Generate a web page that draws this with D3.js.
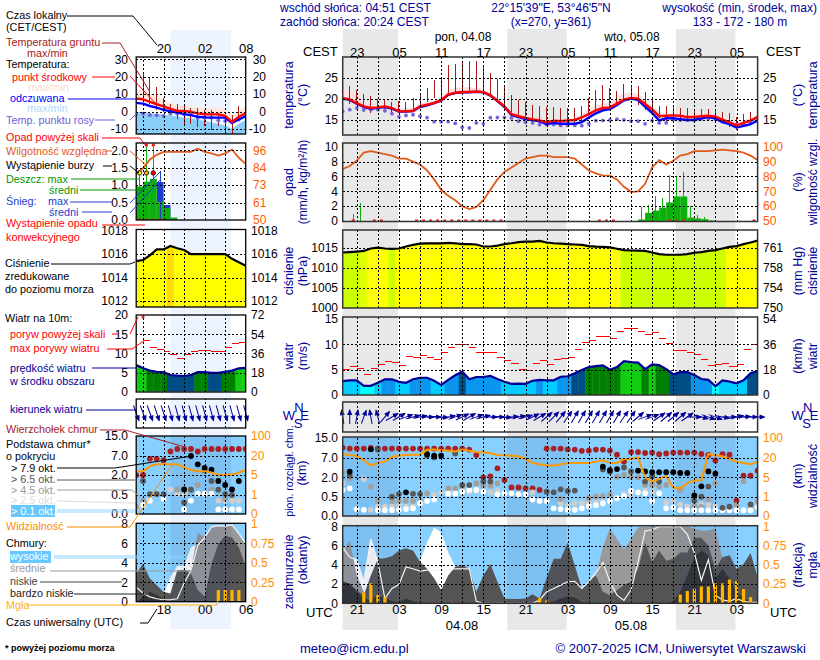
<!DOCTYPE html>
<html>
<head>
<meta charset="utf-8">
<script src="https://cdn.jsdelivr.net/npm/d3@7/dist/d3.min.js"></script>
<style>
  body { margin: 0; background: #fff; }
  svg { display: block; font-family: "Liberation Sans", Arial, sans-serif; font-size: 12px; }
  .grid line { stroke: #000; stroke-dasharray: 2,2; shape-rendering: crispEdges; }
  .grid .domain { display: none; }
  .lab .domain { display: none; }
  .lab text { font-size: 12px; }
</style>
</head>
<body>
<svg id="chart" width="820" height="660"></svg>
<script>
// main column: hourly from 19 UTC 03.08 (60 points)
const temp_mid = [20.2,19.9,19.0,18.25,17.85,18.0,18.25,17.85,17.05,17.05,
  17.2,18.25,18.65,19.05,19.7,21.05,21.5,21.65,21.65,21.8,
  21.65,20.9,19.6,18.25,16.4,15.9,15.5,15.15,14.9,14.45,
  14.85,14.7,14.9,15,15.6,16.4,17.3,17.85,18,18.9,
  19.85,20.25,20.1,18.8,17.5,15.9,16,16.1,16,15.7,
  15.7,15.9,16,15.8,15.1,14.45,13.7,14.3,14.85,15.7];
const temp_max = [22.6,22,20.6,19.2,18.7,18.7,18.7,18.25,17.85,17.85,
  18,18.9,19.2,19.7,20.6,22,22.6,22.85,22.85,22.6,
  22.4,21.4,20.2,18.65,17.05,16.65,16.25,15.9,15.5,15.1,
  15.1,15,15.3,15.3,16.4,17.7,18.65,18.9,19.2,20.25,
  21.4,21.6,21.2,19.85,18.25,17,16.5,16.5,16.4,16.25,
  16.25,16.4,16.4,16.4,15.7,15.1,14.1,15,15.5,16.4];
const feels_mid = [20.1,19.8,18.9,18.1,17.7,17.9,18.1,17.7,17,17,
  17.1,18.1,18.5,19,19.6,21,21.4,21.6,21.6,21.7,
  21.6,20.8,19.5,18.1,16.2,15.7,15.2,15,14.7,14,
  14.3,14.1,14.1,14.1,14.5,15.6,16.6,17.3,17.6,18.6,
  19.7,20.1,19.8,18.2,16.7,14.9,15.4,15.4,15.2,15,
  15,15.4,15.7,15.4,14.5,14,13.2,13.6,14,14.9];
const feels_min = [19.9,19.5,18.6,17.8,17.4,17.6,17.8,17.4,16.8,16.8,
  16.9,17.9,18.3,18.8,19.4,20.8,21.2,21.4,21.4,21.5,
  21.4,20.6,19.3,17.9,16,15.4,14.9,14.6,14.3,13.6,
  13.9,13.7,13.7,13.7,14.1,15.2,16.2,16.9,17.2,18.2,
  19.3,19.7,19.3,17.6,16.1,14.3,14.9,14.9,14.7,14.5,
  14.5,14.9,15.2,14.9,14,13.5,12.8,13.2,13.6,14.5];
const dew_point = [17.05,17.45,17.85,17.45,17.45,17.45,17.2,16.5,15.8,16.1,
  16.25,15.9,15.55,14.6,14.6,14.6,14.2,13.25,13.1,14.3,
  14.1,15.55,15.6,15.6,15.5,14.7,14.45,14.3,13.9,13.9,
  13.9,13.7,13.7,13.7,13.65,14.1,14.85,14.9,15,15.2,
  15,14.75,14.7,14.1,14.85,14.3,14.3,15.1,14.95,14.95,
  14.95,15.3,15.3,15.1,14.7,14.3,13.9,13.9,14.3,14.7];
const ground_max = [null,23.2,22.05,21.2,20.8,20,20,19.4,19.45,19.4,
  20.2,21.05,22.6,24.6,25,28.2,28.4,29.1,29.1,29.1,
  27.95,26.2,24.8,23.2,21,19.8,19.3,18.65,18.4,18.1,
  18,17.85,17.85,17.85,18.4,20.25,22.2,23.4,22.6,22,
  23.6,23.25,23.2,21.65,20.25,18.25,18.25,18,17.85,17.85,
  17.6,17.6,17.7,17.05,16.9,16.7,15.65,16.4,17,17.85];
const ground_min = [null,18.8,18.65,16.9,16.7,17.5,17.5,16.9,16.65,17.05,
  17.5,17.85,19.4,20.2,19.85,21,21.4,21.85,22,22.2,
  21.65,20.6,19.8,17.85,17,16.3,15.5,14.7,14.3,13.9,
  14,14,13.7,13.7,14.3,16.4,17,17.5,17.5,18.65,
  19.85,20.25,18.65,17.5,16.65,15.5,14.3,14.7,14.7,14.7,
  14.7,15,15,14.7,14.3,13.25,12.7,13.5,14.3,15];

const humidity = [85,87,90.6,96,97,96,95,94,92,92,
  90,88,84,78,71,67,64,60,58,59.5,
  64,71,78,83,86,89,92,93,94,94,
  93,93,93,92,88,84,82,80.5,80.5,78,
  73,69.5,70,75,86,91,88,90.5,94,95,
  97,97,97,97.5,98,97.5,97,96,94,91];
// [interval start hour, mm/h]
const rain_mean = [[42,0.2],[43,1.1],[44,1.4],[45,1.8],[46,2.5],[47,3.3],[48,3.3],[49,0.45],[50,0.35],[51,0.25],[52,0.05]];
const rain_max = [[1,0.9],[2,2.4],[42,1.9],[43,2.2],[44,3.3],[45,3.1],[46,6.2],[47,5.9],[48,6.6],[49,2],[50,0.85],[51,0.6],[52,0.2]];
const convective = [1,4,5,10,11,12,13,14,15,16,17,18,19,20,21,22,36,37,38,46,47,48,58];

const pressure = [1013.8,1013.9,1014,1014.2,1014.8,1015,1014.8,1014.7,1014.8,1015.3,
  1015.7,1016,1016.1,1016.1,1016.1,1016.2,1016.1,1015.9,1015.9,1015.8,
  1015.3,1015.3,1015.5,1015.9,1016.1,1016.4,1016.5,1016.5,1016.7,1016.3,
  1016.1,1016,1015.9,1015.8,1015.7,1015.4,1015.25,1015.2,1015.1,1014.75,
  1014.4,1014.3,1014.25,1014.2,1013.8,1013.4,1013.25,1013.25,1013.25,1013.4,
  1013.75,1013.9,1014.2,1014.4,1014.8,1015.2,1015.4,1015.9,1016.3,1016.75];
const press_class = [1,1,1,0.5,0,0,0,1,0,0,0,0,0,0,0,0,0,0,0,0,0,0,0,0,0,0,0,0,0,0,
  0,0,0,0,0,0,0,0,0,0,1,1,1,1,1,1,1,1,1,1,1,1,1,1,1,0,0,0,0,0];

const wind_speed = [2.75,2.9,2.9,1.8,1.8,2.4,3.1,3.1,2.6,2.4,
  3.1,3.4,3.4,2.8,2,3,3.9,4.6,3.1,3.55,
  3.55,3.75,3.15,2.6,2.2,2.25,2.2,2.8,3,2.9,
  2.9,3.6,3.7,4.3,4.95,5.5,5.7,5.85,5,5.5,
  6.7,6.5,6.4,5.1,6.05,5.9,5.1,4.1,4.5,4.5,
  3.95,3.15,3,1.7,2.9,2.65,2.3,2.9,4.3,4.75];
const wind_gust = [5.05,5.6,5.25,4.1,5.25,6.05,6.65,6.45,5.85,7.6,
  7.4,7.8,7.4,7,8.35,9.4,10,10,9.4,8.4,
  8.4,8.4,7.4,6.8,6.3,5.1,4.8,6.3,6.9,6.1,
  7,7.2,7.5,9,10.4,10.8,11.6,11.6,11.1,12.55,
  13.15,13.15,12.55,12,12.35,11.1,10.1,8.8,8.8,8.4,
  7.95,7,5.85,6.05,6.3,5.65,6.05,9,10,10];
const wind_dir = [350,0,10,20,350,345,40,60,60,70,
  75,80,90,90,95,80,70,65,60,70,
  75,90,90,95,85,80,75,65,60,50,
  45,40,35,30,30,30,30,30,30,30,
  35,35,50,70,70,55,50,50,50,55,
  90,105,110,110,100,90,80,85,90,90];

// cloud base [hour, km]
const base_top = [[0,11.1],[1,10.7],[2,10.7],[3,10.7],[4,11],[5,10.7],[6,10.7],[7,10.7],[8,10.7],[9,10.7],[10,10.7],[11,10.7],[12,10.7],[13,10.7],[14,10.7],[15,10.7],[16,10.7],[17,10.7],[18,10.3],[19,8.1],
  [20,2],[21,2.25],[22,4.3],[23,1.8],[24,1.22],[25,1.22],[26,1.15],[27,1.15],[28,1.02],[29,10.7],[30,10.7],[31,10.7],[32,10.4],[33,10.3],[34,9.8],[35,9.9],[36,10.3],[37,10.3],[38,9.9],[39,8.2],
  [40,6],[41,9.3],[42,9.3],[43,8.9],[44,9.1],[45,8.4],[46,8.7],[47,9.1],[48,9.1],[49,9.1],[50,9.1],[51,8.5],[52,8.1],[53,6.3],[54,8.4],[55,8.2],[56,0.4],[57,2.4],[58,2.4],[59,3.7]];
const base_79 = [[1,3.44],[4,10.4],[9,0.84],[12,8.4],[13,7.8],[14,7.8],[37,4.7],[38,3.8],[39,4.1],[42,3.7],[43,3.5],[44,3.3],[45,3.3],[46,3.3],[47,3.3],[48,3.1],[49,3.1],[50,0.6],[51,1.3],[52,3.5],[53,2.9]];
const base_65 = [[1,2.4],[5,10.3],[7,0.5],[8,0.7],[10,0.72],[11,0.7],[12,7.9],[13,7.1],[16,8.7],[17,1.4],[18,1.4],[20,1.67],[21,1.67],[29,0.89],[30,0.84],[31,1.07],[32,0.94],[33,0.97],[37,4],[38,3.4],[40,4.5],[41,3.5],[43,1.67],[44,2.2],[45,1.67],[50,0.4],[51,0.5],[52,1.28],[54,0.21],[55,0.24],[58,0.3]];
const base_45 = [[0,3.3],[1,1.92],[4,1.28],[5,0.39],[7,0.39],[8,0.39],[9,0.39],[10,0.39],[11,0.39],[12,0.76],[15,1.15],[16,1.15],[17,1.28],[19,1.54],[20,1.35],[21,1.35],[22,1.54],[31,0.44],[35,0.46],[36,0.5],[37,0.55],[38,0.68],[39,2.17],[40,2.6],[41,2.17],[42,2],[43,1.41],[44,1.41],[45,1.28],[46,1.41],[48,1.02],[50,0.26],[51,0.24],[52,0.43],[53,1.54],[56,0.28],[57,1.69],[58,0.24],[59,0.39]];
const base_25 = [[0,1.54],[3,1.85],[4,0.16],[5,0.24],[6,0.24],[7,0.24],[8,0.28],[9,0.24],[10,0.24],[11,0.33],[13,0.63],[14,0.84],[15,0.84],[16,0.84],[17,0.89],[18,0.89],[19,0.95],[20,0.95],[21,0.84],[22,0.94],[27,0.84],[31,0.33],[32,0.27],[33,0.33],[34,0.33],[35,0.33],[36,0.37],[37,0.5],[38,0.68],[40,0.73],[41,0.63],[43,1],[44,0.9],[46,0.35],[47,0.4],[48,0.3],[49,0.25],[50,0.3],[51,0.3],[52,0.3],[53,0.25]];
const base_01 = [[0,1.02],[1,1.15],[2,0.18],[3,0.16],[5,0.15],[6,0.15],[7,0.15],[8,0.16],[9,0.18],[10,0.2],[11,0.33],[12,0.39],[13,0.43],[15,0.73],[16,0.73],[17,0.89],[18,1.02],[19,1.02],[20,0.89],[22,0.68],[23,0.76],[24,0.76],[25,0.68],[26,0.68],[27,0.43],[28,0.39],[29,0.39],[30,0.2],[31,0.18],[32,0.16],[33,0.16],[34,0.2],[35,0.26],[36,0.28],[37,0.33],[38,0.39],[39,0.46],[40,0.55],[41,0.94],[42,0.84],[43,0.76],[44,0.39],[45,0.76],[46,0.2],[47,0.22],[48,0.15],[49,0.15],[50,0.15],[51,0.15],[52,0.15],[53,0.15],[54,0.15],[55,0.15],[56,0.15],[57,0.15],[58,0.15],[59,0.22]];
const visibility = [35,31,27,18,14,16,17,24,28,31,32,32,52,53,50,49,45,53,48,43,42,38,31,30,28,26,19,16,15,14,
  14,15,16,16,16,16,17,18,16,16,19,19,21,5,4,4.7,5.8,2.9,2.7,3.8,4.4,4.4,35,30,26,19,17,16,15,17];

const cloud_high = [5.85,4.7,4.55,2.25,6.7,4.3,0,0,0,0,0,4.45,6.35,7.9,7.4,5.3,3.8,3.6,3.6,1.2,
  0,0,0,0,0,0,0,0,0,0,0,0,0,0,0,0,0,0,0,0,0,0,0,0,0,0,0,0,0,0,0,0,0,0,0,0,0,0,0,0];
const cloud_mid = [5.3,6.55,2.9,1.2,0,0,0,0,0,0,0,0,0,0,0,0,0,0,0,0,
  0,0,0,0,0,0,0,0,0,0,0,0,0,0,0,0.2,2.9,5.85,7.8,6.7,
  5.6,6.7,7.9,8,8,8,8,8,8,8,7.8,7.6,7.6,7.8,4.65,1.2,0,0,0,0];
const cloud_low = [2.25,2.05,1.4,0.85,2.9,4.65,4.7,4.9,5.5,5.75,
  5.5,4.3,3.6,2.6,1.4,2.9,3.8,4,3.6,1.2,
  2.9,4.1,2.25,0.5,0.45,0.45,0.5,0.95,0.5,2.6,
  4.65,4.65,6.35,3.95,1.55,2.4,2.9,1.2,0.85,1.4,
  1.9,2.25,3.6,6.35,4.3,5.5,4.45,4.65,5.3,5.3,
  6.85,6.85,6,3.6,4.8,5,3.6,4.1,5.25,2.75];
const cloud_vlow = [2.25,2.05,1.2,0.5,0.35,0.85,0.5,0.25,0.1,0.5,0.2,0,0,0,0,0,0,0,0,0,
  0,0,0,0,0,0,0,0,0,0,0.2,0.5,0.7,0.6,0.1,0,0,0,0,0,
  0,0,0,0,0,0,0,0.2,1.2,2.9,4.8,5.5,5,2.6,3.6,2.6,1.2,0.5,0.2,0];
const cloud_line = [5.85,4.8,4.55,2.25,6.7,4.3,0.5,1.55,1.95,3.8,
  3.6,3.35,3.45,3.45,3.45,3.45,3.6,3.6,3.6,0.2,
  0,0,0,0,0,0,0,0,0.35,1.2,
  1.55,1.9,2.25,2.3,1.55,2.25,3.2,4.25,2.25,0.85,
  0.3,1.4,4.3,7.55,7.65,8,8,8,8,7.2,
  5.3,2.4,4.55,0.85,0.35,0.2,0.5,0.2,0.1,0.1];
const fog = [[3,0.14],[4,0.26],[5,0.11],[6,0.08],[28,0.065],[29,0.035],[48,0.115],[49,0.16],[50,0.19],[51,0.22],[52,0.22],[53,0.26],[54,0.26],[55,0.31],[56,0.29],[57,0.185],[58,0.08]];

// night in hours from start of the main column
const night_main = [[0,7.85],[23.4,31.85],[47.4,55.85]];
const grid_hours_main = [2,5,8,11,14,17,20,23,26,29,32,35,38,41,44,47,50,53,56];
const cest_hours = [2,8,14,20,26,32,38,44,50,56];
const cest_labels = ["23","05","11","17","23","05","11","17","23","05"];
const utc_labels = ["21","03","09","15","21","03","09","15","21","03"];

// left column: hourly 14 UTC - 06 UTC (17 points)
const l_temp_mid = [7.5,7,5.5,4.2,3,1.5,0.5,0.3,-0.2,-1,-1.5,-1.6,-1.6,-2.5,-6,-3,-0.8];
const l_temp_max = [13,12,10.5,9,7,5,3.5,3.3,3,2.5,2,2,2,1,-2,0,3];
const l_feels_mid = [5,4.6,3.2,2.3,1,0.2,-0.5,-1.5,-2,-3,-3.3,-3.5,-3.5,-3.5,-6.5,-4.5,-2.7];
const l_feels_top = [-0.2,-0.2,-0.8,-1.2,-1.7,-2.3,-3,-3.5,-4,-4.7,-5.4,-6.2,-7,-8,-9.8,-7,-4.6];
const l_dew = [-1.2,-1.2,-2.1,-2.1,-2.5,-1.2,-1.2,-1.5,-1.2,-3.7,-3.5,-3.5,-5,-5.4,-6,-4.6,-2.1];
const l_ground_max = [null,22,19,14,7.7,4.6,4.6,3,2.1,2.1,0.8,0.8,-0.8,-2.1,-2.1,3,null];
const l_ground_min = [null,8.5,4.6,1,-0.2,-1.2,-4,-7,-7,-8.8,-8.5,-10.4,-8.5,-12.7,-12.7,-5,null];
const l_humidity = [81,84,90,93,95,95,95,95,95,97,95,94,92.5,94,96.5,91,87];
const l_rain_mean = [[0,0.96],[1,1.1],[2,1.18],[3,0.53],[4,0.34],[5,0.07]];
const l_snow_mean = [[3,1.09],[4,0.43]];
const l_rain_max = [[0,1.35],[1,2.1],[2,2.1]];
const l_snow_max = [[3,1.4]];
const l_storm = [[0,"#ffff00"],[1,"#ffaa00"],[2,"#ff0000"]];
const l_over_scale = [1,2];
const l_convective = [0,1,2,3];
const l_pressure = [1015.4,1015.5,1015.9,1016.4,1016.4,1016.7,1016.5,1016.35,1016,1016,1016,1016,1016,1016,1015.6,1015.3,1015];
const l_press_class = [0,0,0,0,0,2,0,0,0,0,0,0,0,0,0,0,0];
const l_wind_speed = [6.95,6.1,5.5,5.2,5.1,4.35,4.2,4.1,4.35,5.1,5.1,4.9,4.9,5.2,5.5,6.1,6.2];
const l_wind_gust = [null,13.3,11.55,10.9,10.4,9.6,8.7,9.7,10.5,10.7,10.7,10.4,10.4,11.55,12.6,12.9,12.9];
const l_wind_dir = [160,160,160,162,162,165,165,165,165,165,165,165,165,165,165,165,165];
const l_base_top = [[0,2],[1,2],[2,6.3],[3,6.3],[4,5.9],[5,8.8],[6,9.8],[7,9.8],[8,9.8],[9,8.8],[10,9.8],[11,9.8],[12,9.8],[13,9.8],[14,9.8],[15,9.8],[16,9.8]];
const l_base_79 = [[7,0.92],[8,7],[9,4.8],[10,3.9],[11,3.4],[12,1.55],[13,1.25],[14,0.92],[15,1.55]];
const l_base_65 = [[1,1.55],[2,0.57],[3,0.57],[4,0.57],[7,0.3],[8,0.9],[10,3.2],[11,1.55],[12,0.9],[13,0.57],[14,0.5]];
const l_base_45 = [[0,0.2],[1,0.35],[6,0.9],[7,0.9],[8,0.9],[9,1.25],[10,0.6],[11,0.9],[13,0.4]];
const l_base_25 = [[0,0.2],[1,0.3],[5,0.9],[6,0.6],[7,0.55],[12,0.35],[13,0.35],[14,0.35],[15,0.35]];
const l_base_01 = [[1,0.24],[2,0.35],[4,0.4],[7,0.12],[8,0.35],[9,0.6],[10,0.6],[11,0.6],[12,0.12],[13,0.12],[14,0.12],[15,0.12]];
const l_visibility = [8,8,12,13.5,13.5,13.5,13.5,11,9,8,8,7,5,5.2,5.2,7,9];
const l_cloud_high = [0,0,0,0,0.8,2.55,3.7,3.7,5.6,6,6.5,7.3,7.8,7.8,8,7,6];
const l_cloud_mid = [0,0,0,0,0,0,2.5,3.3,3.2,7.1,6.6,7.65,7.8,7.8,8,7,5.95];
const l_cloud_low = [2.9,3.9,2.4,1.7,1,0.85,3.2,3.3,2.9,1.2,0.5,3.9,5.95,6.8,6.6,5.6,3.6];
const l_cloud_vlow = [0,0.5,1,0.7,0.3,0,0,0,0,0,0,0,0,0,0,0,0];
const l_cloud_line = [1.5,0.9,0.5,0.3,0.2,0.2,0.3,1.9,3.2,5.8,6.6,7.7,7.8,7.8,7.9,7,6];
const l_fog = [[12,0.15],[13,0.15],[14,0.15],[15,0.15]];

const temp_ticks = [25,20,15];
const rain_ticks = [10,8,6,4,2,0];
const hum_ticks = [100,90,80,70,60,50];
const press_ticks = [1015,1010,1005,1000];
const mmhg_labels = ["761","758","754","750"];
const wind_ticks = [15,10,5,0];
const kmh_labels = ["54","36","18","0"];
const base_ticks = [15,7,2,0.5,0];
const base_labels = ["15.0","7.0","2.0","0.5","0.0"];
const vis_labels = ["100","20","5","1","0"];
const cloud_ticks = [8,6,4,2,0];
const fog_labels = ["1","0.75","0.5","0.25","0"];

const svg = d3.select("#chart");
const NAVY = "#000099", ORANGE = "#ff8c00", HUM = "#e05a1c", FOGC = "#ffb400";

const pairs = (a) => a.map((v, i) => [i, v]);

function text(x, y, s, color, anchor, size, rot) {
  const t = svg.append("text")
    .attr("x", rot ? 0 : x).attr("y", rot ? 0 : y)
    .attr("dy", "0.35em")
    .attr("fill", color || "#000")
    .attr("text-anchor", anchor || "start")
    .style("font-size", (size || 12) + "px")
    .text(s);
  if (rot) t.attr("transform", `translate(${x},${y}) rotate(${rot})`);
  return t;
}

function link(points, color, dbl) {
  const line = d3.line();
  svg.append("path").attr("d", line(points)).attr("fill", "none")
    .attr("stroke", color).attr("stroke-width", 1);
  if (dbl) svg.append("path").attr("d", line(points.map((p) => [p[0], p[1] + 2])))
    .attr("fill", "none").attr("stroke", color).attr("stroke-width", 1);
}

// one panel: clipped content group, then grid + frame on top
function panel(col, name, top, bottom, fillBack) {
  const id = "clip-" + col.id + "-" + name;
  svg.append("clipPath").attr("id", id).append("rect")
    .attr("x", col.x.range()[0]).attr("y", top)
    .attr("width", col.x.range()[1] - col.x.range()[0]).attr("height", bottom - top);
  const g = svg.append("g").attr("clip-path", `url(#${id})`);
  if (fillBack) g.append("rect").attr("x", col.x.range()[0]).attr("y", top)
    .attr("width", col.x.range()[1] - col.x.range()[0]).attr("height", bottom - top).attr("fill", fillBack);
  return g;
}

function finish(col, top, bottom, yGrid, ticks) {
  const [x0, x1] = col.x.range();
  svg.append("g").attr("class", "grid")
    .attr("transform", `translate(0,${bottom})`)
    .call(d3.axisBottom(col.x).tickValues(col.grid).tickSize(-(bottom - top)).tickFormat(""));
  svg.append("g").attr("class", "grid")
    .attr("transform", `translate(${x0},0)`)
    .call(d3.axisLeft(yGrid).tickValues(ticks).tickSize(-(x1 - x0)).tickFormat(""));
  svg.append("rect").attr("x", x0).attr("y", top).attr("width", x1 - x0).attr("height", bottom - top)
    .attr("fill", "none").attr("stroke", col.frame).attr("stroke-width", col.frameW);
}

function yLabels(scale, ticks, labels, side, x, color, anchor) {
  const ax = (side === "left" ? d3.axisLeft(scale) : d3.axisRight(scale))
    .tickValues(ticks).tickSize(0).tickPadding(0)
    .tickFormat((d, i) => labels ? labels[i] : d);
  const g = svg.append("g").attr("class", "lab").attr("transform", `translate(${x},0)`).call(ax);
  g.selectAll("text").attr("fill", color || "#000");
  if (anchor) g.selectAll("text").attr("text-anchor", anchor);
}

function drawTemp(col, s, y, top, bottom) {
  const g = panel(col, "temp", top, bottom);
  const x = col.x;
  const band = (a, b, fill) => g.append("path").attr("fill", fill)
    .attr("d", d3.area().x((d) => x(d)).y0((d) => y(b[d])).y1((d) => y(a[d])).curve(d3.curveLinear)(d3.range(a.length)));
  band(s.tmax, s.tmid, col.pink);
  band(s.ftop, s.fbot, col.iceblue);
  g.selectAll(".ground").data(d3.range(s.gmax.length).filter((i) => s.gmax[i] !== null)).enter()
    .append("line").attr("x1", (i) => x(i)).attr("x2", (i) => x(i))
    .attr("y1", (i) => y(s.gmax[i])).attr("y2", (i) => y(s.gmin[i]))
    .attr("stroke", "#a81c1c").attr("stroke-width", 1).attr("shape-rendering", "crispEdges");
  const ln = d3.line().x((d) => x(d[0])).y((d) => y(d[1]));
  g.selectAll(".dew").data(pairs(s.dew)).enter().append("circle")
    .attr("cx", (d) => x(d[0])).attr("cy", (d) => y(d[1])).attr("r", 1.9).attr("fill", "#7a62dc");
  g.append("path").attr("d", ln(pairs(s.feels))).attr("fill", "none").attr("stroke", "#0000ff").attr("stroke-width", 2.4);
  g.append("path").attr("d", ln(pairs(s.tmid))).attr("fill", "none").attr("stroke", "#ff0000").attr("stroke-width", 2.4);
}

function drawRain(col, s, y, yHum, top, bottom) {
  const g = panel(col, "rain", top, bottom);
  const x = col.x, w = x(1) - x(0);
  if (s.snow) g.selectAll(".snow").data(s.snow).enter().append("rect")
    .attr("x", (d) => x(d[0])).attr("width", w).attr("y", (d) => y(d[1])).attr("height", (d) => y(0) - y(d[1])).attr("fill", "#1c3ccc");
  g.selectAll(".rain").data(s.rain).enter().append("rect")
    .attr("x", (d) => x(d[0])).attr("width", w).attr("y", (d) => y(d[1])).attr("height", (d) => y(0) - y(d[1])).attr("fill", "#0cb00c");
  g.selectAll(".rmax").data(s.rmax).enter().append("line")
    .attr("x1", (d) => x(d[0] + 0.5)).attr("x2", (d) => x(d[0] + 0.5)).attr("y1", (d) => y(d[1])).attr("y2", y(0))
    .attr("stroke", "#0cb00c").attr("stroke-width", 1).attr("shape-rendering", "crispEdges");
  if (s.smax) g.selectAll(".smax").data(s.smax).enter().append("line")
    .attr("x1", (d) => x(d[0] + 0.5)).attr("x2", (d) => x(d[0] + 0.5)).attr("y1", (d) => y(d[1])).attr("y2", y(0))
    .attr("stroke", "#1c3ccc").attr("stroke-width", 1).attr("shape-rendering", "crispEdges");
  g.append("path").attr("fill", "none").attr("stroke", HUM).attr("stroke-width", 1.8)
    .attr("d", d3.line().x((d) => x(d[0])).y((d) => yHum(d[1]))(pairs(s.hum)));
  g.selectAll(".conv").data(s.conv).enter().append("rect")
    .attr("x", (d) => x(d + 0.5) - 1.5).attr("width", 3).attr("y", y(0) - 1.5).attr("height", 3).attr("fill", "#e82020");
  if (s.storm) g.selectAll(".storm").data(s.storm).enter().append("circle")
    .attr("cx", (d) => x(d[0] + 0.5)).attr("cy", y(1.35)).attr("r", 2.2).attr("fill", (d) => d[1]).attr("stroke", "#000").attr("stroke-width", 0.8);
  if (s.over) g.selectAll(".over").data(s.over).enter().append("rect")
    .attr("x", (d) => x(d + 0.5) - 1.5).attr("width", 3).attr("y", y(2.15) - 1.5).attr("height", 3).attr("fill", "#e82020");
}

// step colours cut by the curve's area
function colouredArea(col, name, g, values, classes, colour, y, y0, lineColor) {
  const x = col.x;
  const id = "area-" + col.id + "-" + name;
  const area = d3.area().x((d) => x(d[0])).y0(y0).y1((d) => y(d[1]));
  svg.append("clipPath").attr("id", id).append("path").attr("d", area(pairs(values)));
  g.append("g").attr("clip-path", `url(#${id})`).selectAll("rect").data(pairs(values)).enter().append("rect")
    .attr("x", (d) => x(d[0] - 0.5)).attr("width", x(1) - x(0) + 0.4)
    .attr("y", y(d3.max(values)) - 3).attr("height", y0 - y(d3.max(values)) + 3)
    .attr("fill", (d, i) => colour(classes ? classes[i] : d[1]));
  g.append("path").attr("fill", "none").attr("stroke", lineColor).attr("stroke-width", 2.2)
    .attr("d", d3.line().x((d) => x(d[0])).y((d) => y(d[1]))(pairs(values)));
}

const pressColour = d3.scaleLinear().domain([0, 1]).range(["#ffff00", "#ccff00"]);
const pressColourL = (c) => c === 2 ? "#ffdc00" : pressColour(c);
const windColour = d3.scaleThreshold().domain([2, 3, 4, 5, 6])
  .range(["#00ffff", "#00ccff", "#0a96ee", "#004c85", "#008000", "#11cc11"]);

function drawWind(col, s, y, top, bottom) {
  const g = panel(col, "wind", top, bottom);
  const x = col.x;
  colouredArea(col, "wind", g, s.speed, null, windColour, y, y(0), NAVY);
  g.selectAll(".gust").data(pairs(s.gust).filter((d) => d[1] !== null)).enter().append("line")
    .attr("x1", (d) => x(d[0])).attr("x2", (d) => x(d[0] + 1))
    .attr("y1", (d) => y(d[1])).attr("y2", (d) => y(d[1]))
    .attr("stroke", "#ff0000").attr("stroke-width", 1).attr("shape-rendering", "crispEdges");
}

function drawDir(col, s, cy, len) {
  const x = col.x;
  const g = svg.append("g");
  const a = g.selectAll(".arrow").data(pairs(s.dir)).enter().append("g")
    .attr("transform", (d) => `translate(${x(d[0])},${cy}) rotate(${d[1]})`);
  a.append("line").attr("y1", len / 2).attr("y2", -len / 2).attr("stroke", NAVY).attr("stroke-width", 1);
  a.append("path").attr("d", `M0,${-len / 2 - 1}L-2.6,${-len / 2 + 5}L2.6,${-len / 2 + 5}Z`).attr("fill", NAVY);
}

function dots(g, x, y, data, fill) {
  g.selectAll(null).data(data).enter().append("circle")
    .attr("cx", (d) => x(d[0])).attr("cy", (d) => y(d[1])).attr("r", 2.9).attr("fill", fill);
}

function nightTint(col, g, top, bottom) {
  col.night.forEach((n) => g.append("rect")
    .attr("x", col.x(n[0])).attr("width", col.x(n[1]) - col.x(n[0]))
    .attr("y", top).attr("height", bottom - top).attr("fill", "rgba(40,70,130,0.10)"));
}

function drawBase(col, s, y, yVis, top, bottom) {
  const g = panel(col, "base", top, bottom, "#87d0ff");
  nightTint(col, g, top, bottom);
  dots(g, col.x, y, s.top, "#a82024");
  dots(g, col.x, y, s.b25, "#cfcfcf");
  dots(g, col.x, y, s.b45, "#a0a0a0");
  dots(g, col.x, y, s.b01, "#ffffff");
  dots(g, col.x, y, s.b65, "#585858");
  dots(g, col.x, y, s.b79, "#000000");
  g.append("path").attr("fill", "none").attr("stroke", "#ff9800").attr("stroke-width", 2)
    .attr("d", d3.line().x((d) => col.x(d[0])).y((d) => yVis(d[1]))(pairs(s.vis)));
}

function drawClouds(col, s, y, yFog, top, bottom) {
  const g = panel(col, "cloud", top, bottom, "#87d0ff");
  const x = col.x;
  const layer = (vals, fill) => g.append("path").attr("fill", fill)
    .attr("d", d3.area().x((d) => x(d[0])).y0(y(0)).y1((d) => y(d[1]))(pairs(vals)));
  layer(s.high, "#ffffff");
  layer(s.mid, "#999999");
  layer(s.low, "#555555");
  layer(s.vlow, "#333333");
  nightTint(col, g, top, bottom);
  g.append("path").attr("fill", "none").attr("stroke", "#f4f4f4").attr("stroke-width", 1.2)
    .attr("d", d3.line().x((d) => x(d[0])).y((d) => y(d[1]))(pairs(s.line)));
  g.selectAll(".fog").data(s.fog).enter().append("rect")
    .attr("x", (d) => x(d[0]) - 1.6).attr("width", 3.2)
    .attr("y", (d) => yFog(d[1])).attr("height", (d) => yFog(0) - yFog(d[1])).attr("fill", FOGC);
}

// ---------- columns ----------
const mainCol = {
  id: "m", x: d3.scaleLinear().domain([0, 59]).range([342.7, 757.6]), grid: grid_hours_main,
  night: night_main, frame: "#333", frameW: 1.5, pink: "#ffdfe2", iceblue: "#d0eaff",
};
const leftCol = {
  id: "l", x: d3.scaleLinear().domain([0, 16]).range([136.2, 245.7]), grid: [1, 4, 7, 10, 13],
  night: [[4.99, 13.86]], frame: "#000", frameW: 1.3, pink: "#ffe6dc", iceblue: "#87cefa",
};

// night backdrops
night_main.forEach((n) => svg.append("rect")
  .attr("x", mainCol.x(n[0])).attr("width", mainCol.x(n[1]) - mainCol.x(n[0]))
  .attr("y", 29).attr("height", 601).attr("fill", "#e8e8e8"));
leftCol.night.forEach((n) => svg.append("rect")
  .attr("x", leftCol.x(n[0])).attr("width", leftCol.x(n[1]) - leftCol.x(n[0]))
  .attr("y", 30).attr("height", 599).attr("fill", "#eef4ff"));

// ---------- main panels ----------
const yT = d3.scaleLinear().domain([25, 15]).range([78, 120]);
drawTemp(mainCol, { tmax: temp_max, tmid: temp_mid, ftop: feels_mid, fbot: feels_min, dew: dew_point, gmax: ground_max, gmin: ground_min, feels: feels_mid }, yT, 57, 135);
finish(mainCol, 57, 135, yT, temp_ticks);
yLabels(yT, temp_ticks, null, "left", 338);
yLabels(yT, temp_ticks, null, "right", 763);

const yR = d3.scaleLinear().domain([0, 10]).range([221, 146.7]);
const yH = d3.scaleLinear().domain([50, 100]).range([221, 146.7]);
drawRain(mainCol, { rain: rain_mean, rmax: rain_max, hum: humidity, conv: convective }, yR, yH, 143, 221.5);
finish(mainCol, 143, 221.5, yR, [8, 6, 4, 2]);
yLabels(yR, rain_ticks, null, "left", 338);
yLabels(yH, hum_ticks, null, "right", 763, "#ff5a00");

const yP = d3.scaleLinear().domain([1000, 1015]).range([308, 247.7]);
const gP = panel(mainCol, "press", 230, 308);
colouredArea(mainCol, "press", gP, pressure, press_class, pressColour, yP, 308, "#000");
finish(mainCol, 230, 308, yP, press_ticks.slice(0, 3));
yLabels(yP, press_ticks, null, "left", 338);
yLabels(yP, press_ticks, mmhg_labels, "right", 763);

const yW = d3.scaleLinear().domain([0, 15]).range([395, 319]);
drawWind(mainCol, { speed: wind_speed, gust: wind_gust }, yW, 317, 395);
finish(mainCol, 317, 395, yW, [10, 5]);
yLabels(yW, wind_ticks, null, "left", 338);
yLabels(yW, wind_ticks, kmh_labels, "right", 763);

svg.append("g").attr("class", "grid").attr("transform", "translate(0,432)")
  .call(d3.axisBottom(mainCol.x).tickValues(grid_hours_main).tickSize(-30).tickFormat(""));
drawDir(mainCol, { dir: wind_dir }, 417, 14);
svg.append("rect").attr("x", 342.7).attr("y", 402).attr("width", 414.9).attr("height", 30)
  .attr("fill", "none").attr("stroke", "#333").attr("stroke-width", 1.5);

const yB = d3.scaleLinear().domain([0, 0.5, 2, 7, 15]).range([516, 496.7, 477.3, 457.7, 438]);
const yV = d3.scaleLinear().domain([0, 1, 5, 20, 100]).range([516, 496.7, 477.3, 457.7, 438]);
drawBase(mainCol, { top: base_top, b79: base_79, b65: base_65, b45: base_45, b25: base_25, b01: base_01, vis: visibility }, yB, yV, 437, 516);
finish(mainCol, 437, 516, yB, [7, 2, 0.5]);
yLabels(yB, base_ticks, base_labels, "left", 338);
yLabels(yB, base_ticks, vis_labels, "right", 763, ORANGE);

const yC = d3.scaleLinear().domain([0, 8]).range([603.3, 526.6]);
const yF = d3.scaleLinear().domain([0, 1]).range([603.3, 526.6]);
drawClouds(mainCol, { high: cloud_high, mid: cloud_mid, low: cloud_low, vlow: cloud_vlow, line: cloud_line, fog: fog }, yC, yF, 525.7, 603.3);
finish(mainCol, 525.7, 603.3, yC, [6, 4, 2]);
yLabels(yC, cloud_ticks, null, "left", 338);
yLabels(yC, cloud_ticks, fog_labels, "right", 763, ORANGE);

// time axes, main
const timeAxis = (col, orient, y, hours, labels) => {
  const ax = orient(col.x).tickValues(hours).tickSize(0).tickPadding(0).tickFormat((d, i) => labels[i]);
  const g = svg.append("g").attr("class", "lab").attr("transform", `translate(0,${y})`).call(ax);
  g.selectAll("text").style("font-size", "13px");
};
timeAxis(mainCol, d3.axisTop, 57, cest_hours, cest_labels);
timeAxis(mainCol, d3.axisBottom, 605, cest_hours, utc_labels);

// ---------- left panels ----------
const lT = d3.scaleLinear().domain([30, -10]).range([59.3, 129]);
drawTemp(leftCol, { tmax: l_temp_max, tmid: l_temp_mid, ftop: l_feels_top, fbot: l_feels_top.map(() => -20), dew: l_dew, gmax: l_ground_max, gmin: l_ground_min, feels: l_feels_mid }, lT, 57, 134);
finish(leftCol, 57, 134, lT, [30, 20, 10, 0, -10]);
yLabels(lT, [30, 20, 10, 0, -10], null, "left", 128);
yLabels(lT, [30, 20, 10, 0, -10], null, "right", 266, null, "end");

const lR = d3.scaleLinear().domain([0, 2]).range([220, 150.3]);
const lH = d3.scaleLinear().domain([50, 96]).range([220, 150.3]);
drawRain(leftCol, { rain: l_rain_mean, snow: l_snow_mean, rmax: l_rain_max, smax: l_snow_max, hum: l_humidity, conv: l_convective, storm: l_storm, over: l_over_scale }, lR, lH, 143, 220);
finish(leftCol, 143, 220, lR, [2, 1.5, 1, 0.5]);
yLabels(lR, [2, 1.5, 1, 0.5, 0], ["2.0", "1.5", "1.0", "0.5", "0.0"], "left", 128);
yLabels(lR, [2, 1.5, 1, 0.5, 0], ["96", "84", "73", "61", "50"], "right", 253, "#ff5a00");

const lP = d3.scaleLinear().domain([1012, 1018]).range([301, 230.7]);
const gLP = panel(leftCol, "press", 229.5, 307);
colouredArea(leftCol, "press", gLP, l_pressure, l_press_class, pressColourL, lP, 307, "#000");
finish(leftCol, 229.5, 307, lP, [1016, 1014, 1012]);
yLabels(lP, [1018, 1016, 1014, 1012], null, "left", 128);
yLabels(lP, [1018, 1016, 1014, 1012], null, "right", 251);

const lW = d3.scaleLinear().domain([0, 20]).range([391.7, 315]);
drawWind(leftCol, { speed: l_wind_speed, gust: l_wind_gust }, lW, 315, 392);
finish(leftCol, 315, 392, lW, [15, 10, 5]);
yLabels(lW, [20, 15, 10, 5, 0], null, "left", 128);
yLabels(lW, [20, 15, 10, 5, 0], ["72", "54", "36", "18", "0"], "right", 251);
svg.append("circle").attr("cx", leftCol.x(1)).attr("cy", 317).attr("r", 1.6).attr("fill", "#e82020");

svg.append("g").attr("class", "grid").attr("transform", "translate(0,428)")
  .call(d3.axisBottom(leftCol.x).tickValues(leftCol.grid).tickSize(-29).tickFormat(""));
drawDir(leftCol, { dir: l_wind_dir }, 413, 16);
svg.append("rect").attr("x", 136.2).attr("y", 399).attr("width", 109.5).attr("height", 29)
  .attr("fill", "none").attr("stroke", "#000").attr("stroke-width", 1.3);

const lB = d3.scaleLinear().domain([0, 0.5, 2, 7, 15]).range([514, 495, 475, 456, 436]);
const lV = d3.scaleLinear().domain([0, 1, 5, 20, 100]).range([514, 495, 475, 456, 436]);
drawBase(leftCol, { top: l_base_top, b79: l_base_79, b65: l_base_65, b45: l_base_45, b25: l_base_25, b01: l_base_01, vis: l_visibility }, lB, lV, 436, 514);
finish(leftCol, 436, 514, lB, [7, 2, 0.5]);
yLabels(lB, base_ticks, base_labels, "left", 128);
yLabels(lB, base_ticks, vis_labels, "right", 251, ORANGE);

const lC = d3.scaleLinear().domain([0, 8]).range([601.7, 524]);
const lF = d3.scaleLinear().domain([0, 1]).range([601.7, 524]);
drawClouds(leftCol, { high: l_cloud_high, mid: l_cloud_mid, low: l_cloud_low, vlow: l_cloud_vlow, line: l_cloud_line, fog: l_fog }, lC, lF, 523.3, 601.7);
finish(leftCol, 523.3, 601.7, lC, [6, 4, 2]);
yLabels(lC, cloud_ticks, null, "left", 128);
yLabels(lC, cloud_ticks, fog_labels, "right", 251, ORANGE);

timeAxis(leftCol, d3.axisTop, 53, [4, 10, 16], ["20", "02", "08"]);
timeAxis(leftCol, d3.axisBottom, 605, [4, 10, 16], ["18", "00", "06"]);

// ---------- header + side titles ----------
text(280, 8, "wschód słońca: 04:51 CEST", NAVY);
text(280, 22, "zachód słońca: 20:24 CEST", NAVY);
text(551, 8, "22°15'39\"E, 53°46'5\"N", NAVY, "middle");
text(551, 22, "(x=270,  y=361)", NAVY, "middle");
text(817, 8, "wysokość (min, środek, max)", NAVY, "end");
text(740, 22, "133 - 172 - 180 m", NAVY, "middle");
text(463, 37, "pon, 04.08", "#000", "middle");
text(632, 37, "wto, 05.08", "#000", "middle");
text(303, 51, "CEST", "#000", "start", 13);
text(766, 51, "CEST", "#000", "start", 13);
text(306, 612, "UTC", "#000", "start", 13);
text(770, 612, "UTC", "#000", "start", 13);
text(462, 625, "04.08", "#000", "middle", 13);
text(631, 625, "05.08", "#000", "middle", 13);
text(300, 648, "meteo@icm.edu.pl", NAVY, "start", 13);
text(806, 648, "© 2007-2025 ICM, Uniwersytet Warszawski", NAVY, "end", 13);

[[289, 95, "temperatura", 12.5], [303, 95, "(°C)", 12.5], [289, 182, "opad", 12.5], [303, 182, "(mm/h, kg/m²/h)", 12],
 [289, 271, "ciśnienie", 12.5], [303, 271, "(hPa)", 12.5], [289, 356, "wiatr", 12.5], [303, 356, "(m/s)", 12.5],
 [289, 471, "pion. rozciągł. chm.", 10.6], [302, 473, "(km)", 12.5], [289, 572, "zachmurzenie", 12], [303, 560, "(oktanty)", 12.5],
 [798, 95, "(°C)", 12.5], [813, 95, "temperatura", 12.5], [798, 182, "(%)", 12.5], [813, 182, "wilgotność wzgl.", 12],
 [798, 271, "(mm Hg)", 12.5], [813, 271, "ciśnienie", 12.5], [798, 356, "(km/h)", 12.5], [813, 356, "wiatr", 12.5],
 [798, 476, "(km)", 12.5], [813, 476, "widzialność", 12.5], [798, 565, "(frakcja)", 12.5], [813, 565, "mgła", 12.5],
].forEach((t) => text(t[0], t[1], t[2], NAVY, "middle", t[3], -90));

// wind rose letters
[[289, 299, 304.7], [797.7, 807.7, 814]].forEach((c) => {
  text(c[0], 415, "W", NAVY, "middle", 13);
  text(c[1], 407, "N", NAVY, "middle", 13);
  text(c[1] - 1, 423.5, "S", NAVY, "middle", 13);
  text(c[2], 415, "E", NAVY, "middle", 13);
});

// ---------- left legend ----------
const BR = "#a82024", RED = "#ff0000", GRN = "#009900", BLU = "#1c3ccc";
const lg = (x, y, s, c) => text(x, y, s, c, "start", 10.8);
lg(6, 15, "Czas lokalny", "#000");
lg(6, 27, "(CET/CEST)", "#000");
link([[67, 16], [133, 16], [157, 45]], "#000");
lg(6, 42, "Temperatura gruntu", BR);
lg(27, 53, "max/min", BR);
link([[102, 43], [120, 43], [150, 92]], BR);
lg(6, 64, "Temperatura:", "#000");
lg(12, 77, "punkt środkowy", RED);
link([[92, 77], [115, 77]], RED);
link([[130, 76], [157, 105]], RED);
lg(28, 87, "max/min", "#ffd8d0");
lg(10, 98, "odczuwana", "#0000ff");
link([[68, 99], [136, 99]], "#0000ff");
lg(27, 108, "max/min", "#aadcff");
lg(6, 120, "Temp. punktu rosy", "#7060d8");
link([[95, 120], [115, 120]], "#7060d8");
link([[130, 120], [137, 113]], "#7060d8");
lg(6, 137, "Opad powyżej skali", RED);
link([[102, 138], [140, 138], [146, 146]], RED);
lg(6, 151, "Wilgotność względna", HUM);
link([[106, 151], [112, 151]], HUM);
link([[130, 151], [146, 165]], HUM);
lg(6, 165, "Wystąpienie burzy", "#000");
link([[103, 166], [112, 166]], "#000");
link([[130, 166], [139, 173]], "#000");
lg(6, 179, "Deszcz: max", GRN);
link([[71, 179], [139, 179]], GRN);
lg(49, 190, "średni", GRN);
link([[80, 190], [145, 190]], GRN);
lg(6, 201, "Śnieg:", BLU);
lg(48, 201, "max", BLU);
link([[70, 202], [112, 202]], BLU);
link([[130, 203], [160, 172]], BLU);
lg(49, 212, "średni", BLU);
link([[82, 212], [112, 212]], BLU);
link([[130, 213], [160, 180]], BLU);
lg(6, 223, "Wystąpienie opadu", RED);
link([[102, 225], [145, 225]], RED);
lg(6, 237, "konwekcyjnego", RED);
lg(5, 263, "Ciśnienie", "#000");
link([[51, 264], [130, 264], [135, 262]], "#000");
lg(5, 276, "zredukowane", "#000");
lg(5, 289, "do poziomu morza", "#000");
lg(5, 318, "Wiatr na 10m:", "#000");
lg(10, 334, "poryw powyżej skali", RED);
link([[112, 334], [118, 334]], RED);
link([[130, 334], [138, 317]], RED);
lg(10, 348, "max porywy wiatru", RED);
link([[107, 349], [132, 349], [145, 340]], RED);
lg(10, 368, "prędkość wiatru", NAVY);
link([[92, 368], [136, 368]], NAVY);
lg(10, 381, "w środku obszaru", NAVY);
lg(10, 409, "kierunek wiatru", NAVY);
link([[86, 410], [136, 410]], NAVY);
lg(6, 429, "Wierzchołek chmur", BR);
link([[100, 430], [125, 430], [185, 447]], BR);
lg(6, 444, "Podstawa chmur*", "#000");
lg(6, 456, "o pokryciu", "#000");
lg(11, 468, "> 7.9 okt.", "#000");
link([[57, 468], [115, 468], [192, 456]], "#000");
lg(11, 479, "> 6.5 okt.", "#555");
link([[57, 480], [135, 480]], "#555");
lg(11, 490, "> 4.5 okt.", "#999");
link([[57, 490], [132, 490], [143, 500]], "#999");
lg(11, 500, "> 2.5 okt.", "#ddd");
link([[57, 501], [135, 503]], "#ddd");
svg.append("rect").attr("x", 11).attr("y", 505).attr("width", 44).attr("height", 12).attr("fill", "#66c8ff");
lg(11, 511, "> 0.1 okt.", "#fff");
link([[57, 510], [135, 510]], "#8fd4ff", true);
lg(6, 526, "Widzialność", ORANGE);
link([[67, 527], [130, 527], [172, 465]], ORANGE);
lg(6, 543, "Chmury:", "#000");
svg.append("rect").attr("x", 10).attr("y", 551).attr("width", 41).attr("height", 12).attr("fill", "#66c8ff");
lg(10, 556, "wysokie", "#fff");
link([[54, 556], [185, 556]], "#8fd4ff", true);
lg(10, 568, "średnie", "#999");
link([[50, 571], [192, 571]], "#999");
lg(10, 581, "niskie", "#444");
link([[40, 582], [122, 582]], "#444");
lg(10, 593, "bardzo niskie", "#222");
link([[74, 594], [147, 594]], "#222");
lg(6, 605, "Mgła", FOGC);
link([[27, 605], [217, 605], [219, 590]], FOGC);
lg(6, 622, "Czas uniwersalny (UTC)", "#000");
link([[140, 623], [148, 623], [157, 609]], "#000");
text(5, 648, "* powyżej poziomu morza", "#000", "start", 9).style("font-weight", "bold");
</script>
</body>
</html>
